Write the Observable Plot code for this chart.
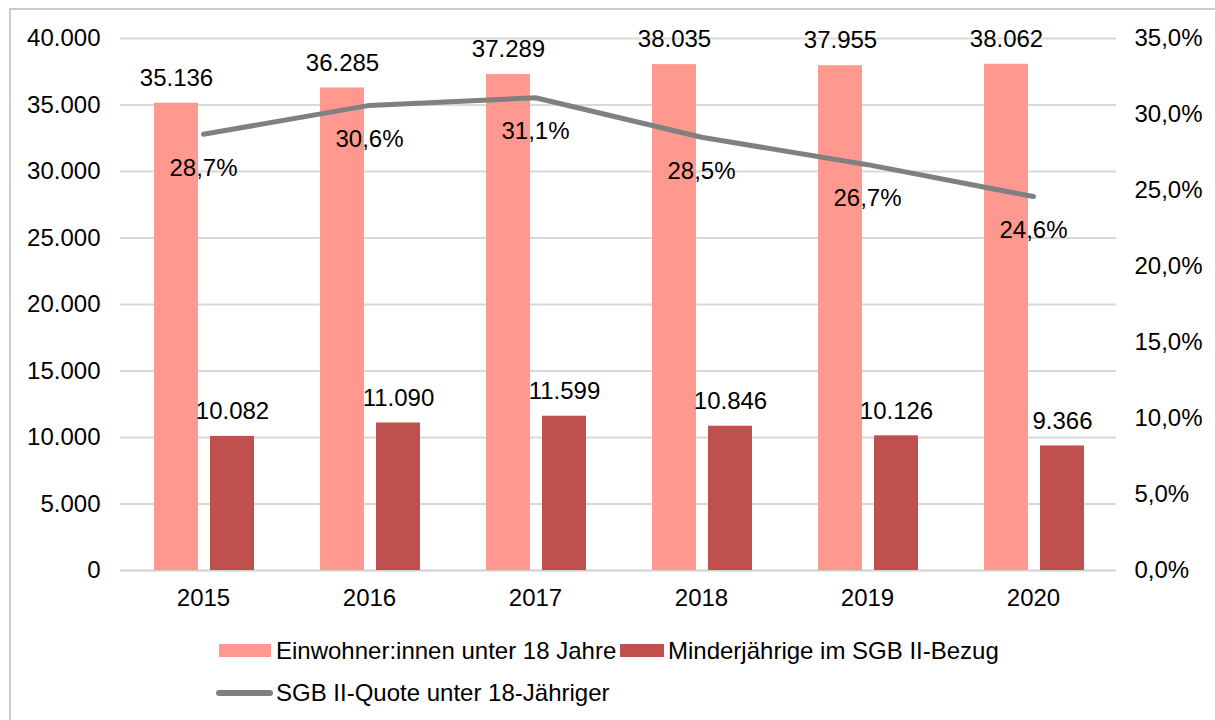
<!DOCTYPE html>
<html>
<head>
<meta charset="utf-8">
<script src="https://cdn.jsdelivr.net/npm/d3@7"></script>
<script src="https://cdn.jsdelivr.net/npm/@observablehq/plot@0.6"></script>
<style>
  body { margin:0; background:#fff; }
  #wrap { position:relative; width:1215px; height:720px; overflow:hidden; font-family:"Liberation Sans", Arial, sans-serif; color:#000; }
  #frame { position:absolute; left:9px; top:8px; width:1400px; height:900px; border:2px solid #cccccc; }
  #chart { position:absolute; left:0; top:0; }
  .lg { position:absolute; font-size:24px; line-height:24px; white-space:nowrap; }
  .sw { position:absolute; }
</style>
</head>
<body>
<div id="wrap">
  <div id="frame"></div>
  <div id="chart"></div>
  <div id="legend"></div>
</div>
<script>
const years = ["2015", "2016", "2017", "2018", "2019", "2020"];
const einwohner = [35136, 36285, 37289, 38035, 37955, 38062];
const sgbBezug = [10082, 11090, 11599, 10846, 10126, 9366];
const quote = [28.7, 30.6, 31.1, 28.5, 26.7, 24.6];
const leftTicks = [0, 5000, 10000, 15000, 20000, 25000, 30000, 35000, 40000];
const rightTicks = [0, 5, 10, 15, 20, 25, 30, 35];
const seriesNames = ["Einwohner:innen unter 18 Jahre", "Minderjährige im SGB II-Bezug", "SGB II-Quote unter 18-Jähriger"];
const colors = ["#FF9990", "#C0504D", "#808080"];

const rows = years.map((y, i) => ({year: y, ew: einwohner[i], sgb: sgbBezug[i], q: quote[i]}));
const k = 40000 / 35;
const de = d3.formatLocale({decimal: ",", thousands: ".", grouping: [3], currency: ["", "€"]});
const fmtInt = de.format(",d");
const fmtPct = v => v.toFixed(1).replace(".", ",") + "%";
const FS = 24;

const chart = Plot.plot({
  width: 1215, height: 620,
  marginLeft: 120, marginRight: 99, marginTop: 38, marginBottom: 50,
  style: {fontFamily: "'Liberation Sans', Arial, sans-serif", fontSize: FS + "px", color: "#000", background: "transparent"},
  x: {type: "band", domain: years, padding: 0, label: null},
  y: {domain: [0, 40000], label: null},
  marks: [
    Plot.ruleY(leftTicks.filter(d => d > 0), {stroke: "#d9d9d9", strokeWidth: 2}),
    Plot.ruleY([0], {stroke: "#d0d0d0", strokeWidth: 2}),
    Plot.barY(rows, {x: "year", y: "ew", fill: colors[0], insetLeft: 34, insetRight: 88}),
    Plot.barY(rows, {x: "year", y: "sgb", fill: colors[1], insetLeft: 90, insetRight: 32}),
    Plot.lineY(rows, {x: "year", y: d => d.q * k, stroke: colors[2], strokeWidth: 5, strokeLinecap: "round"}),
    Plot.text(rows, {x: "year", y: "ew", text: d => fmtInt(d.ew), dx: -27, dy: -25, fontSize: FS, fill: "#000"}),
    Plot.text(rows, {x: "year", y: "sgb", text: d => fmtInt(d.sgb), dx: 29, dy: -25, fontSize: FS, fill: "#000"}),
    Plot.text(rows, {x: "year", y: d => d.q * k, text: d => fmtPct(d.q), dy: 34, fontSize: FS, fill: "#000"}),
    Plot.axisY(leftTicks, {anchor: "left", tickSize: 0, tickPadding: 20, tickFormat: d => fmtInt(d), fontSize: FS, label: null}),
    Plot.axisY(rightTicks.map(d => d * k), {anchor: "right", tickSize: 0, tickPadding: 18, tickFormat: d => fmtPct(d / k), fontSize: FS, label: null}),
    Plot.axisX({tickSize: 0, tickPadding: 18, fontSize: FS, label: null})
  ]
});
document.getElementById("chart").appendChild(chart);

const legend = document.getElementById("legend");
legend.innerHTML = `
  <div class="sw" style="left:219px;top:644px;width:52px;height:13px;background:${colors[0]}"></div>
  <div class="lg" style="left:276px;top:639px">${seriesNames[0]}</div>
  <div class="sw" style="left:620px;top:644px;width:44px;height:13px;background:${colors[1]}"></div>
  <div class="lg" style="left:668px;top:639px">${seriesNames[1]}</div>
  <div class="sw" style="left:216px;top:690px;width:57px;height:6px;border-radius:3px;background:${colors[2]}"></div>
  <div class="lg" style="left:276px;top:681px">${seriesNames[2]}</div>
`;
</script>
</body>
</html>
